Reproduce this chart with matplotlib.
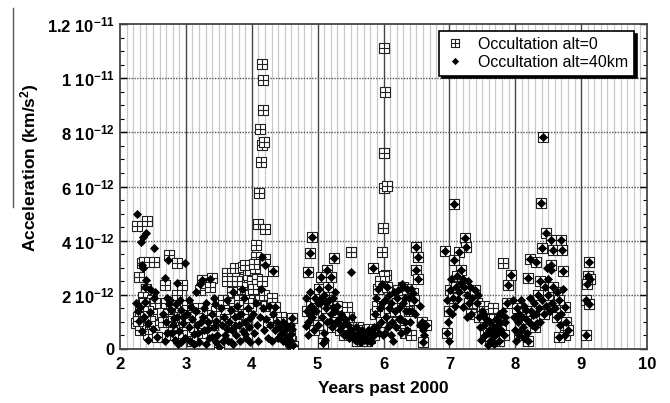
import matplotlib
matplotlib.use("Agg")
import matplotlib.pyplot as plt
from matplotlib.path import Path
from matplotlib.lines import Line2D
from matplotlib.ticker import MultipleLocator

plt.rcParams['font.family'] = ['Liberation Sans', 'DejaVu Sans']
plt.rcParams['mathtext.fontset'] = 'custom'
plt.rcParams['mathtext.rm'] = 'Liberation Sans:bold'
plt.rcParams['mathtext.it'] = 'Liberation Sans:bold'
plt.rcParams['mathtext.bf'] = 'Liberation Sans:bold'

# ---- data (acceleration in units of 1e-12 km/s^2) ----
series_labels = ["Occultation alt=0", "Occultation alt=40km"]

alt0_points = [
    # spike near 4.15
    (4.15, 10.54), (4.165, 9.93), (4.17, 8.82), (4.12, 8.14), (4.16, 7.55), (4.18, 7.65),
    (4.135, 6.91), (4.11, 5.77), (4.10, 4.61), (4.20, 4.42), (4.07, 3.84), (4.07, 3.38),
    (4.20, 3.34), (4.33, 2.89),
    # spike near 6.0
    (6.006, 11.1), (6.02, 9.5), (6.006, 7.22), (6.006, 5.93), (6.05, 6.03), (5.99, 4.45),
    (5.97, 3.59), (6.04, 2.73), (6.00, 2.68),
    # 2.2 - 2.6
    (2.26, 4.54), (2.41, 4.72), (2.34, 3.16), (2.51, 3.22), (2.29, 2.67), (2.40, 2.2),
    (2.35, 1.93), (2.48, 1.81), (2.53, 1.7), (2.28, 1.19), (2.25, 0.95), (2.33, 0.82),
    (2.48, 1.3), (2.51, 0.9), (2.43, 0.55), (2.31, 1.35), (2.38, 1.55), (2.45, 1.05),
    (2.30, 0.7), (2.37, 3.2), (2.56, 0.45), (2.27, 1.05), (2.36, 1.7), (2.42, 1.4),
    # 2.6 - 3.0
    (2.75, 3.47), (2.86, 3.18), (2.68, 2.36), (2.94, 2.38), (2.86, 2.0), (2.70, 1.7),
    (3.01, 1.62), (2.81, 0.82), (2.94, 0.7), (2.73, 1.3), (2.78, 1.05), (2.84, 1.5),
    (2.90, 1.2), (2.66, 1.0), (2.76, 0.5), (2.97, 1.0), (2.88, 0.4),
    # 3.0 - 3.5
    (3.24, 2.55), (3.39, 2.61), (3.21, 2.18), (3.30, 2.45), (3.37, 2.3), (3.51, 0.08),
    (3.06, 1.2), (3.13, 0.8), (3.19, 1.5), (3.25, 0.6), (3.32, 1.25), (3.41, 0.9),
    (3.46, 1.4), (3.10, 0.3),
    # 3.5 - 4.1
    (3.62, 2.79), (3.63, 2.5), (3.75, 2.98), (3.87, 3.04), (3.88, 2.6), (3.82, 2.2),
    (3.70, 2.1), (3.90, 3.1), (3.95, 2.73), (3.78, 2.5), (3.93, 2.3), (3.98, 2.9),
    (4.00, 2.5), (3.97, 2.0), (3.80, 1.8), (3.66, 1.7), (3.73, 1.4), (3.57, 1.8),
    (3.60, 1.1), (3.86, 1.3), (3.92, 0.9), (3.68, 0.8), (3.99, 1.6), (4.02, 2.2),
    (4.04, 1.8), (4.08, 2.6), (4.05, 3.0), (3.95, 1.7), (4.03, 3.15),
    # 4.1 - 4.6
    (4.16, 2.5), (4.12, 1.8), (4.18, 2.0), (4.22, 1.6), (4.25, 1.0), (4.30, 1.9),
    (4.36, 1.56), (4.40, 0.9), (4.45, 1.2), (4.50, 0.5), (4.56, 0.8), (4.60, 0.3),
    (4.61, 1.13), (4.62, 0.1), (4.58, 0.5),
    # 4.8 - 5.5
    (4.91, 4.14), (4.88, 3.55), (4.86, 2.85), (5.25, 3.37), (5.14, 2.92), (5.05, 2.67),
    (5.20, 2.67), (5.50, 3.59), (4.84, 1.4), (4.90, 1.6), (4.96, 1.9), (5.02, 2.2),
    (5.08, 0.23), (5.10, 2.0), (5.16, 2.3), (5.22, 0.8), (5.28, 1.0), (5.34, 0.7),
    (5.40, 0.5), (5.46, 0.9), (4.94, 0.7), (5.00, 0.9), (5.12, 1.5), (5.18, 1.8),
    (5.30, 1.6), (5.38, 0.9), (5.44, 1.55), (5.48, 1.2),
    # 5.5 - 6.0
    (5.55, 0.5), (5.60, 0.3), (5.65, 0.4), (5.70, 0.35), (5.75, 0.3), (5.80, 0.4),
    (5.85, 0.5), (5.62, 0.8), (5.68, 0.7), (5.72, 0.6), (5.78, 0.75), (5.84, 2.98),
    (5.87, 1.3), (5.92, 2.2), (5.96, 1.0), (5.94, 2.5), (5.90, 1.6),
    # 6.0 - 6.7
    (6.05, 2.3), (6.09, 1.5), (6.13, 1.0), (6.17, 1.4), (6.22, 2.18), (6.30, 2.3),
    (6.36, 2.2), (6.45, 2.05), (6.47, 1.8), (6.38, 1.4), (6.50, 3.78), (6.53, 3.41),
    (6.50, 2.9), (6.53, 2.6), (6.58, 1.0), (6.60, 0.25), (6.64, 0.9), (6.25, 0.9),
    (6.32, 0.6), (6.42, 0.5), (6.20, 1.7),
    # 6.7 - 7.4
    (6.94, 3.62), (7.07, 5.35), (7.23, 4.11), (7.25, 3.78), (7.14, 3.59), (7.07, 3.28),
    (7.18, 2.92), (7.12, 2.7), (7.01, 2.18), (7.00, 1.4), (6.96, 0.58), (7.05, 1.9),
    (7.22, 2.3), (7.30, 1.7), (7.39, 2.18), (7.33, 1.3), (7.10, 2.3),
    # 7.4 - 7.9
    (7.42, 1.7), (7.45, 1.2), (7.50, 1.4), (7.54, 0.5), (7.58, 0.6), (7.62, 0.3),
    (7.67, 0.8), (7.71, 1.1), (7.75, 0.3), (7.79, 0.7), (7.82, 3.19), (7.83, 0.5),
    (7.87, 1.7), (7.89, 2.36), (7.94, 2.73), (7.52, 1.6), (7.60, 1.3), (7.66, 1.5),
    # 7.9 - 8.8
    (8.39, 5.38), (8.46, 4.27), (8.55, 4.02), (8.70, 4.02), (8.40, 3.72), (8.57, 3.65),
    (8.71, 3.65), (8.22, 3.34), (8.31, 3.2), (8.54, 3.1), (8.73, 2.88), (8.19, 2.61),
    (8.37, 2.5), (8.45, 2.3), (8.64, 2.11), (8.75, 1.56), (8.63, 1.2), (8.77, 1.0),
    (8.75, 0.5), (8.67, 0.45), (8.43, 1.3), (8.30, 0.8), (8.20, 0.3), (8.42, 7.83),
    (8.02, 1.5), (8.10, 1.2), (8.16, 1.1), (8.24, 1.4), (8.34, 2.0), (8.50, 2.0),
    (8.58, 2.3), (8.66, 1.8), (8.80, 0.7), (8.06, 0.5),
    # 9.1
    (9.12, 3.22), (9.10, 2.7), (9.13, 2.6), (9.09, 2.4), (9.07, 1.8), (9.12, 1.65),
    (9.07, 0.52),
]

alt40_points = [
    # 2.2 - 2.6
    (2.26, 5.0), (2.40, 4.29), (2.35, 4.12), (2.32, 3.94), (2.51, 3.72), (2.35, 2.98),
    (2.40, 2.55), (2.38, 2.3), (2.53, 2.11), (2.25, 1.69), (2.30, 1.55), (2.27, 1.4),
    (2.36, 1.2), (2.43, 0.95), (2.43, 0.33), (2.56, 0.45), (2.33, 3.1), (2.38, 1.75),
    (2.46, 1.35), (2.50, 0.75), (2.29, 1.05), (2.45, 2.2), (2.52, 1.9), (2.34, 0.65),
    # 2.6 - 3.0
    (2.73, 3.28), (2.99, 3.19), (2.68, 2.61), (2.86, 2.45), (2.76, 1.81), (2.91, 1.80),
    (2.66, 1.3), (2.70, 1.0), (2.72, 0.6), (2.78, 1.45), (2.80, 0.9), (2.83, 0.35),
    (2.87, 1.2), (2.90, 0.65), (2.93, 1.45), (2.96, 0.95), (2.98, 0.4), (2.74, 1.65),
    (2.85, 1.65), (2.68, 0.3), (2.95, 1.2), (2.88, 0.2), (2.71, 1.9), (2.82, 1.15),
    (2.92, 0.25), (2.79, 0.6),
    # 3.0 - 3.5
    (3.02, 1.3), (3.05, 0.8), (3.07, 0.3), (3.10, 1.1), (3.12, 0.55), (3.15, 1.4),
    (3.17, 0.9), (3.20, 0.25), (3.22, 2.4), (3.24, 2.55), (3.26, 1.2), (3.28, 0.7),
    (3.30, 1.7), (3.33, 1.0), (3.35, 0.4), (3.37, 2.6), (3.39, 1.3), (3.42, 0.8),
    (3.44, 1.65), (3.46, 1.05), (3.48, 0.5), (3.51, 0.08), (3.16, 2.1), (3.04, 1.8),
    (3.31, 0.2), (3.43, 1.9), (3.08, 1.55), (3.13, 0.2), (3.19, 0.6), (3.23, 1.0),
    (3.27, 1.5), (3.34, 0.75), (3.40, 0.45), (3.45, 0.25),
    # 3.5 - 4.0
    (3.53, 1.5), (3.55, 0.9), (3.58, 1.2), (3.60, 0.5), (3.62, 1.8), (3.64, 0.3),
    (3.66, 1.0), (3.68, 1.45), (3.70, 0.7), (3.72, 0.2), (3.74, 1.2), (3.76, 0.5),
    (3.78, 1.6), (3.80, 0.9), (3.82, 0.3), (3.84, 1.3), (3.86, 0.65), (3.88, 1.9),
    (3.90, 1.0), (3.92, 0.4), (3.94, 1.5), (3.96, 0.8), (3.98, 0.25), (3.71, 2.1),
    (3.85, 2.2), (3.56, 0.3), (3.63, 0.75), (3.69, 0.25), (3.75, 0.85), (3.81, 1.25),
    (3.89, 0.55), (3.97, 1.15),
    # 4.0 - 4.6
    (4.02, 1.3), (4.04, 0.6), (4.06, 1.7), (4.08, 0.9), (4.10, 0.3), (4.12, 1.2),
    (4.15, 3.41), (4.20, 3.1), (4.14, 2.2), (4.17, 1.5), (4.19, 0.7), (4.22, 1.1),
    (4.24, 0.4), (4.26, 1.6), (4.28, 0.9), (4.30, 0.3), (4.33, 2.89), (4.32, 1.3),
    (4.36, 1.56), (4.35, 0.7), (4.38, 1.0), (4.40, 0.4), (4.42, 0.8), (4.45, 0.55),
    (4.48, 0.3), (4.50, 0.7), (4.53, 0.45), (4.56, 0.8), (4.58, 0.3), (4.60, 0.55),
    (4.61, 1.13), (4.62, 0.15), (4.59, 0.9), (4.57, 0.1), (4.60, 0.3), (4.55, 0.2),
    (4.52, 0.9), (4.47, 1.0), (4.61, 0.75),
    # 4.8 - 5.5
    (4.91, 4.14), (4.88, 3.55), (4.86, 2.85), (5.25, 3.37), (5.14, 2.92), (5.05, 2.67),
    (5.20, 2.67), (4.82, 1.9), (4.84, 1.4), (4.86, 1.0), (4.88, 2.1), (4.90, 1.6),
    (4.92, 1.2), (4.94, 0.7), (4.96, 1.9), (4.98, 1.4), (5.00, 0.9), (5.02, 2.2),
    (5.04, 1.7), (5.06, 1.2), (5.08, 0.23), (5.09, 0.6), (5.10, 2.0), (5.12, 1.5),
    (5.14, 1.0), (5.16, 2.3), (5.18, 1.8), (5.20, 1.3), (5.22, 0.8), (5.24, 1.9),
    (5.26, 1.4), (5.28, 1.0), (5.30, 1.6), (5.32, 1.1), (5.34, 0.7), (5.36, 1.3),
    (5.38, 0.9), (5.40, 0.5), (5.42, 1.1), (5.44, 0.6), (5.46, 0.9), (5.48, 0.4),
    (5.50, 2.85), (5.50, 0.7), (5.52, 1.2), (4.85, 0.5), (5.11, 0.35), (4.83, 0.85),
    (4.89, 1.25), (4.95, 1.45), (5.01, 1.7), (5.07, 1.9), (5.13, 1.75), (5.19, 1.05),
    (5.23, 1.55), (5.27, 2.1), (5.31, 0.95),
    # 5.5 - 6.0
    (5.55, 0.5), (5.58, 0.8), (5.60, 0.3), (5.62, 0.6), (5.65, 0.4), (5.67, 0.7),
    (5.70, 0.35), (5.72, 0.6), (5.75, 0.3), (5.78, 0.55), (5.80, 0.4), (5.82, 0.7),
    (5.84, 2.98), (5.85, 0.5), (5.87, 1.3), (5.89, 1.9), (5.90, 0.8), (5.92, 2.2),
    (5.94, 1.5), (5.96, 1.0), (5.98, 2.4), (5.99, 0.5), (5.63, 0.45), (5.73, 0.45),
    (5.77, 0.7), (5.69, 0.55), (5.57, 0.35), (5.66, 0.25), (5.74, 0.55), (5.81, 0.25),
    (5.86, 0.8), (5.93, 0.6), (5.97, 1.7),
    # 6.0 - 6.7
    (6.02, 1.8), (6.04, 1.2), (6.05, 2.3), (6.07, 0.8), (6.09, 1.5), (6.11, 0.5),
    (6.13, 1.0), (6.15, 0.3), (6.17, 1.4), (6.19, 0.8), (6.21, 1.9), (6.22, 2.18),
    (6.24, 1.5), (6.26, 1.1), (6.28, 2.4), (6.30, 2.3), (6.32, 1.9), (6.34, 1.4),
    (6.36, 2.2), (6.38, 1.4), (6.40, 1.0), (6.42, 2.2), (6.45, 2.05), (6.47, 1.8),
    (6.48, 1.3), (6.50, 3.78), (6.53, 3.41), (6.50, 2.9), (6.53, 2.6), (6.55, 1.6),
    (6.56, 0.9), (6.58, 1.0), (6.60, 0.7), (6.60, 0.25), (6.62, 0.5), (6.64, 0.9),
    (6.27, 0.6), (6.35, 0.7), (6.03, 0.6), (6.08, 2.0), (6.12, 1.7), (6.16, 2.1),
    (6.23, 1.1), (6.29, 1.7), (6.33, 1.0), (6.39, 1.9), (6.44, 1.4),
    # 6.7 - 7.4
    (6.94, 3.62), (7.07, 5.35), (7.23, 4.11), (7.25, 3.78), (7.14, 3.59), (7.07, 3.28),
    (7.18, 2.92), (7.12, 2.7), (7.20, 2.6), (7.28, 2.5), (7.01, 2.18), (7.00, 1.4),
    (6.96, 0.58), (6.98, 1.0), (6.97, 1.8), (7.03, 2.6), (7.05, 1.9), (7.10, 2.3),
    (7.15, 2.1), (7.22, 2.3), (7.26, 2.0), (7.30, 1.7), (7.33, 1.3), (7.35, 1.9),
    (7.39, 2.18), (7.04, 1.3), (7.09, 1.6), (6.99, 0.3), (7.13, 1.85), (7.17, 2.45),
    (7.21, 1.55), (7.27, 1.2), (7.31, 2.3),
    # 7.4 - 7.9
    (7.42, 1.7), (7.45, 1.2), (7.47, 0.8), (7.50, 1.4), (7.52, 0.9), (7.54, 0.5),
    (7.56, 1.1), (7.58, 0.6), (7.60, 0.7), (7.62, 0.3), (7.65, 0.3), (7.67, 0.8),
    (7.69, 0.5), (7.71, 1.1), (7.73, 0.6), (7.75, 0.3), (7.77, 1.0), (7.79, 0.7),
    (7.81, 1.4), (7.83, 0.5), (7.85, 1.0), (7.87, 1.7), (7.89, 2.36), (7.94, 2.73),
    (7.59, 0.15), (7.48, 0.35), (7.44, 2.0), (7.53, 1.3), (7.61, 1.0), (7.64, 0.55),
    (7.68, 0.2), (7.72, 0.85), (7.76, 1.3), (7.84, 1.2),
    # 7.9 - 8.8
    (8.39, 5.38), (8.46, 4.27), (8.55, 4.02), (8.70, 4.02), (8.40, 3.72), (8.57, 3.65),
    (8.71, 3.65), (8.22, 3.34), (8.31, 3.2), (8.54, 3.1), (8.54, 2.9), (8.73, 2.88),
    (8.19, 2.61), (8.37, 2.5), (8.45, 2.3), (8.64, 2.11), (8.75, 1.56), (8.63, 1.2),
    (8.77, 1.0), (8.75, 0.5), (8.67, 0.45), (8.43, 1.3), (8.30, 0.8), (8.20, 0.3),
    (7.96, 1.8), (7.98, 1.2), (8.00, 0.7), (8.02, 1.5), (8.04, 1.0), (8.06, 0.5),
    (8.08, 1.8), (8.10, 1.2), (8.12, 0.8), (8.14, 1.6), (8.16, 1.1), (8.18, 0.6),
    (8.22, 1.9), (8.24, 1.4), (8.26, 0.9), (8.28, 1.7), (8.32, 1.3), (8.34, 2.0),
    (8.36, 1.5), (8.38, 1.0), (8.41, 1.8), (8.47, 1.6), (8.50, 2.0), (8.52, 1.4),
    (8.56, 1.7), (8.58, 2.3), (8.60, 1.5), (8.66, 1.8), (8.68, 0.9), (8.70, 1.3),
    (8.72, 2.2), (8.80, 0.7), (8.42, 7.83), (8.48, 3.0), (8.50, 2.6), (8.01, 0.3),
    (8.05, 1.3), (8.09, 0.7), (8.13, 0.4), (8.17, 1.45), (8.21, 1.0), (8.27, 1.25),
    (8.33, 0.95),
    # 9.1
    (9.12, 3.22), (9.10, 2.7), (9.13, 2.6), (9.09, 2.4), (9.07, 1.8), (9.12, 1.65),
    (9.07, 0.52),
]

x_ticks = [2, 3, 4, 5, 6, 7, 8, 9, 10]
y_ticks = [0, 2, 4, 6, 8, 10, 12]
y_tick_labels = ["0", "2 10$^{-12}$", "4 10$^{-12}$", "6 10$^{-12}$",
                 "8 10$^{-12}$", "1 10$^{-11}$", "1.2 10$^{-11}$"]

# ---- figure ----
fig = plt.figure(figsize=(6.70, 4.03), dpi=100)
ax = fig.add_axes([120/670, 1-349/403, 527/670, 325/403])

# grid
for xv in [2 + i*0.1 for i in range(1, 80)]:
    if abs(xv - round(xv)) < 1e-6:
        ax.axvline(xv, color='#444444', lw=1.0, zorder=1)
    else:
        ax.axvline(xv, color='#ababab', lw=0.9, ls=(0, (1, 0.6)), zorder=1)
for yv in y_ticks[1:-1]:
    ax.axhline(yv, color='#555555', lw=1.0, ls=(0, (1, 1)), zorder=1)

# square-with-plus marker
verts = [(-1, -1), (1, -1), (1, 1), (-1, 1), (-1, -1),
         (0, -1), (0, 1), (-1, 0), (1, 0)]
codes = [Path.MOVETO, Path.LINETO, Path.LINETO, Path.LINETO, Path.CLOSEPOLY,
         Path.MOVETO, Path.LINETO, Path.MOVETO, Path.LINETO]
box_plus = Path(verts, codes)

x0 = [p[0] for p in alt0_points]
y0 = [p[1] for p in alt0_points]
x40 = [p[0] for p in alt40_points]
y40 = [p[1] for p in alt40_points]

ax.plot(x0, y0, ls='none', marker=box_plus, ms=6.6, mfc='white', mec='#222222',
        mew=0.8, zorder=3, label=series_labels[0])
ax.plot(x40, y40, ls='none', marker='D', ms=3.9, mfc='black', mec='black',
        mew=0.6, zorder=4, label=series_labels[1])

ax.set_xlim(2, 10)
ax.set_ylim(0, 12)
ax.set_xticks(x_ticks)
ax.set_xticklabels([str(v) for v in x_ticks], fontsize=12, fontweight='bold')
ax.set_yticks(y_ticks)
ax.set_yticklabels(y_tick_labels, fontsize=12, fontweight='bold')
ax.yaxis.set_minor_locator(MultipleLocator(0.5))
ax.tick_params(axis='y', which='major', direction='in', length=5, width=1,
               right=True, pad=4)
ax.tick_params(axis='y', which='minor', direction='in', length=3, width=0.8,
               right=True)
ax.tick_params(axis='x', which='major', direction='in', length=0, pad=6)
for s in ax.spines.values():
    s.set_color('#444444')
    s.set_linewidth(1.3)

leg = ax.legend(loc='upper right', bbox_to_anchor=(0.975, 0.978), borderaxespad=0,
                fontsize=11.5, frameon=True, fancybox=False, handlelength=1.3,
                handletextpad=0.8, borderpad=0.35, labelspacing=0.2,
                markerscale=0.8,
                shadow={'color': 'black', 'alpha': 1.0})
leg.get_frame().set_edgecolor('black')
leg.get_frame().set_linewidth(1.2)

fig.text(30/670, 1-168/403, "Acceleration (km/s$^{2}$)", rotation=90,
         ha='center', va='center', fontsize=12.5, fontweight='bold')
fig.text(383/670, 1-389/403, "Years past 2000", ha='center', va='center',
         fontsize=12.5, fontweight='bold')

fig.add_artist(Line2D([13/670, 13/670], [1-8/403, 1-207/403], color='#555555', lw=1.0))

fig.savefig("out.png", dpi=100)
